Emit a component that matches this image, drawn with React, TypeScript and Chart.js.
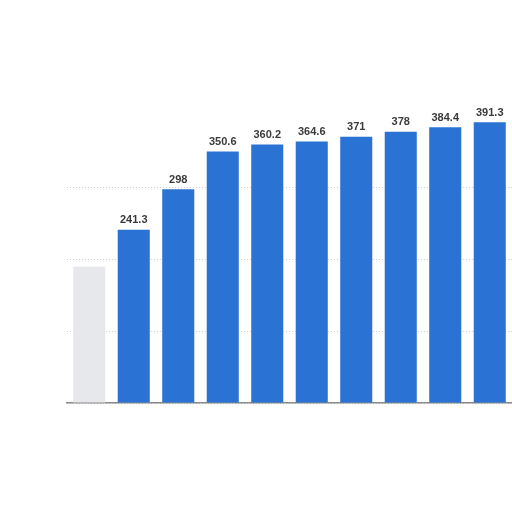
import React, { useEffect, useRef } from "react";
import { Chart, registerables, Plugin } from "chart.js";

Chart.register(...registerables);

const years = ["2014", "2015", "2016", "2017", "2018", "2019", "2020", "2021", "2022", "2023"];
const values = [190, 241.3, 298, 350.6, 360.2, 364.6, 371, 378, 384.4, 391.3];
// the first bar is washed out in the picture, so it gets no label
const showLabel = [false, true, true, true, true, true, true, true, true, true];
const barColors = ["#e6e8ec", "#2a72d4", "#2a72d4", "#2a72d4", "#2a72d4", "#2a72d4", "#2a72d4", "#2a72d4", "#2a72d4", "#2a72d4"];
const yTicks = [0, 100, 200, 300, 400];

const valueLabels: Plugin<"bar"> = {
  id: "valueLabels",
  afterDatasetsDraw(chart) {
    const ctx = chart.ctx;
    const meta = chart.getDatasetMeta(0);
    ctx.save();
    ctx.font = "bold 11px 'Liberation Sans', Arial, sans-serif";
    ctx.fillStyle = "#3a3a3a";
    ctx.textAlign = "center";
    ctx.textBaseline = "bottom";
    meta.data.forEach((bar, i) => {
      if (!showLabel[i]) return;
      ctx.fillText(String(values[i]), bar.x, bar.y - 4);
    });
    ctx.restore();
  },
};

const App: React.FC = () => {
  const canvasRef = useRef<HTMLCanvasElement | null>(null);

  useEffect(() => {
    if (!canvasRef.current) return;
    const chart = new Chart(canvasRef.current, {
      type: "bar",
      data: {
        labels: years,
        datasets: [
          {
            data: values,
            backgroundColor: barColors,
            categoryPercentage: 1,
            barPercentage: 0.72,
          },
        ],
      },
      options: {
        animation: false,
        responsive: false,
        layout: { padding: { left: 67, right: 0, top: 116, bottom: 109 } },
        plugins: {
          legend: { display: false },
          tooltip: { enabled: false },
        },
        scales: {
          x: {
            ticks: { display: false },
            grid: { display: false, drawTicks: false },
            border: { display: true, color: "#8a8a8a", width: 1.5 },
          },
          y: {
            min: 0,
            max: 400,
            afterBuildTicks: (axis) => {
              axis.ticks = yTicks.map((v) => ({ value: v }));
            },
            ticks: { display: false },
            grid: {
              color: (c) => (c.tick && c.tick.value === 400 ? "rgba(0,0,0,0)" : "#d0d0d0"),
              drawTicks: false,
            },
            border: { display: false, dash: [1, 2] },
          },
        },
      },
      plugins: [valueLabels],
    });
    return () => chart.destroy();
  }, []);

  return (
    <div style={{ position: "absolute", left: 0, top: 0, width: 512, height: 512, background: "#fff" }}>
      <canvas ref={canvasRef} width={512} height={512} style={{ width: 512, height: 512 }} />
    </div>
  );
};

export default App;
